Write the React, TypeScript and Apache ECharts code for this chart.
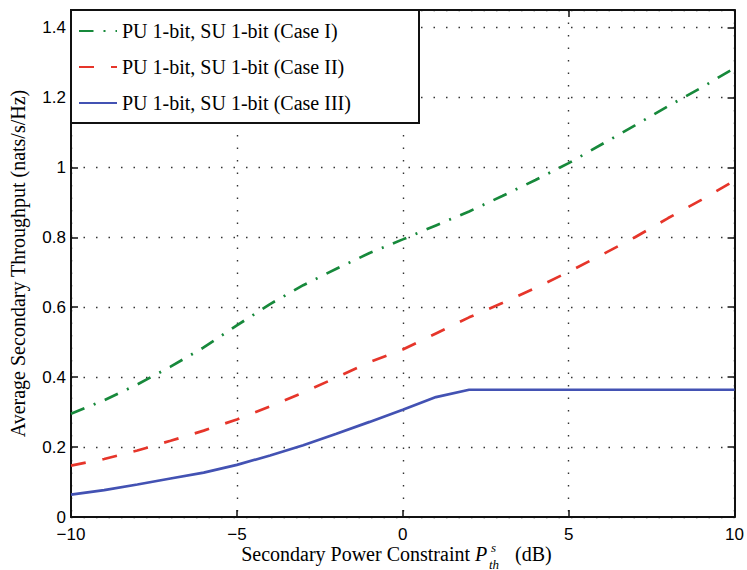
import React, { useEffect, useRef } from 'react';
import * as echarts from 'echarts';

const xValues = [-10, -9, -8, -7, -6, -5, -4, -3, -2, -1, 0, 1, 2, 3, 4, 5, 6, 7, 8, 9, 10];
const caseI = [0.295, 0.334, 0.379, 0.43, 0.485, 0.548, 0.609, 0.663, 0.71, 0.755, 0.794, 0.834, 0.874, 0.918, 0.964, 1.012, 1.066, 1.12, 1.175, 1.228, 1.284];
const caseII = [0.147, 0.166, 0.19, 0.218, 0.247, 0.279, 0.316, 0.356, 0.399, 0.443, 0.479, 0.525, 0.571, 0.612, 0.655, 0.701, 0.75, 0.8, 0.855, 0.907, 0.962];
const caseIII = [0.064, 0.077, 0.093, 0.11, 0.127, 0.149, 0.176, 0.205, 0.238, 0.272, 0.307, 0.343, 0.364, 0.364, 0.364, 0.364, 0.364, 0.364, 0.364, 0.364, 0.364];
const seriesNames = [
  'PU 1-bit, SU 1-bit (Case I)',
  'PU 1-bit, SU 1-bit (Case II)',
  'PU 1-bit, SU 1-bit (Case III)',
];
const yAxisTitle = 'Average Secondary Throughput (nats/s/Hz)';
const xAxisTitleMain = 'Secondary Power Constraint';

const pairs = (ys: number[]) => xValues.map((x, i) => [x, ys[i]]);

const SERIF = '"Liberation Serif", "Times New Roman", serif';
const SANS = '"Liberation Sans", Arial, sans-serif';

export default function App() {
  const ref = useRef<HTMLDivElement>(null);
  useEffect(() => {
    if (!ref.current) return;
    const chart = echarts.init(ref.current, undefined, { renderer: 'svg' });
    const frameLine = { show: true, onZero: false, lineStyle: { color: '#111', width: 2 } };
    const tick = { show: true, inside: true, length: 7, lineStyle: { color: '#111', width: 1.5 } };
    const grid = { show: true, lineStyle: { color: '#333', width: 1.4, type: [1.5, 11] } };
    const xFmt = (v: number) => (v < 0 ? '\u2212' + Math.abs(v) : String(v));
    const yFmt = (v: number) => (v > 1.41 ? '' : String(Math.round(v * 10) / 10));
    const textStyle = (extra: any) => ({ fill: '#000', ...extra });
    chart.setOption({
      animation: false,
      backgroundColor: '#fff',
      grid: { left: 71, right: 12, top: 10, bottom: 53 },
      legend: {
        left: 71,
        top: 10,
        orient: 'vertical',
        itemWidth: 38,
        itemHeight: 14,
        itemGap: 16,
        padding: [11, 31, 10, 7],
        backgroundColor: '#fff',
        borderColor: '#111',
        borderWidth: 2,
        borderRadius: 0,
        itemStyle: { opacity: 0, borderWidth: 0 },
        textStyle: { fontFamily: SERIF, fontSize: 20, lineHeight: 20, color: '#000', width: 266 },
        data: seriesNames,
      },
      xAxis: [
        {
          type: 'value', min: -10, max: 10, interval: 5, position: 'bottom',
          axisLine: frameLine, axisTick: tick, splitLine: grid,
          axisLabel: { fontFamily: SANS, fontSize: 17, color: '#000', margin: 9, formatter: xFmt },
        },
        {
          type: 'value', min: -10, max: 10, interval: 5, position: 'top',
          axisLine: frameLine, axisTick: tick, splitLine: { show: false }, axisLabel: { show: false },
        },
      ],
      yAxis: [
        {
          type: 'value', min: 0, max: 1.45, interval: 0.2, position: 'left',
          axisLine: frameLine, axisTick: tick, splitLine: grid,
          axisLabel: { fontFamily: SANS, fontSize: 17, color: '#000', margin: 5, formatter: yFmt, showMaxLabel: false },
          name: yAxisTitle, nameLocation: 'middle', nameGap: 43,
          nameTextStyle: { fontFamily: SERIF, fontSize: 20, color: '#000' },
        },
        {
          type: 'value', min: 0, max: 1.45, interval: 0.2, position: 'right',
          axisLine: frameLine, axisTick: tick, splitLine: { show: false }, axisLabel: { show: false },
        },
      ],
      series: [
        {
          name: seriesNames[0], type: 'line', data: pairs(caseI), symbol: 'none', showSymbol: false,
          lineStyle: { color: '#17893b', width: 2.7, type: [14.5, 10, 2, 10] }, itemStyle: { color: '#17893b' },
        },
        {
          name: seriesNames[1], type: 'line', data: pairs(caseII), symbol: 'none', showSymbol: false,
          lineStyle: { color: '#e6352a', width: 2.7, type: [15, 17] }, itemStyle: { color: '#e6352a' },
        },
        {
          name: seriesNames[2], type: 'line', data: pairs(caseIII), symbol: 'none', showSymbol: false,
          lineStyle: { color: '#4352b3', width: 2.7 }, itemStyle: { color: '#4352b3' },
        },
      ],
      graphic: [
        { type: 'text', x: 470, y: 554, style: textStyle({ text: xAxisTitleMain, font: '20px ' + SERIF, align: 'right', textAlign: 'right', verticalAlign: 'middle', textVerticalAlign: 'middle' }) },
        { type: 'text', x: 475, y: 554, style: textStyle({ text: 'P', font: 'italic 20px ' + SERIF, align: 'left', textAlign: 'left', verticalAlign: 'middle', textVerticalAlign: 'middle' }) },
        { type: 'text', x: 491, y: 547, style: textStyle({ text: 's', font: 'italic 13px ' + SERIF, align: 'left', textAlign: 'left', verticalAlign: 'middle', textVerticalAlign: 'middle' }) },
        { type: 'text', x: 489, y: 564, style: textStyle({ text: 'th', font: 'italic 13px ' + SERIF, align: 'left', textAlign: 'left', verticalAlign: 'middle', textVerticalAlign: 'middle' }) },
        { type: 'text', x: 515, y: 554, style: textStyle({ text: '(dB)', font: '20px ' + SERIF, align: 'left', textAlign: 'left', verticalAlign: 'middle', textVerticalAlign: 'middle' }) },
      ],
    });
    return () => chart.dispose();
  }, []);
  return <div ref={ref} style={{ position: 'fixed', left: 0, top: 0, width: 747, height: 570, background: '#fff' }} />;
}
